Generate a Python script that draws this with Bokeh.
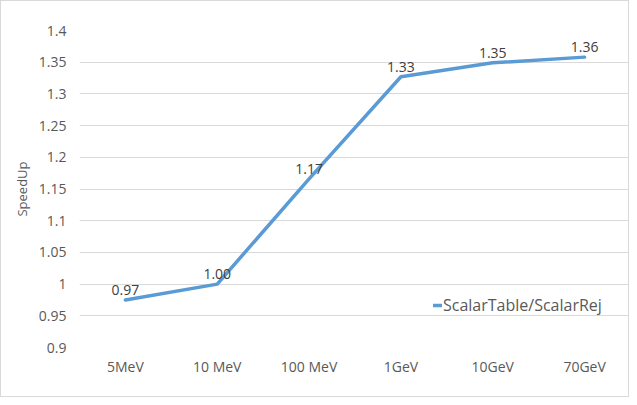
from bokeh.plotting import figure
from bokeh.models import ColumnDataSource, LabelSet, Legend, LegendItem, FixedTicker, Range1d, CustomJSTickFormatter
from bokeh.core.properties import value
from bokeh.embed import file_html
from bokeh.resources import INLINE

categories = ["5MeV", "10 MeV", "100 MeV", "1GeV", "10GeV", "70GeV"]
speedup = [0.975, 1.000, 1.166, 1.327, 1.349, 1.358]
labels = ["0.97", "1.00", "1.17", "1.33", "1.35", "1.36"]
series_name = "ScalarTable/ScalarRej"
y_ticks = [0.9, 0.95, 1.0, 1.05, 1.1, 1.15, 1.2, 1.25, 1.3, 1.35, 1.4]

FONT = "Open Sans"
GREY = "#595959"

src = ColumnDataSource(dict(x=categories, y=speedup, lab=labels))

p = figure(x_range=categories, y_range=Range1d(0.9, 1.4), width=629, height=397,
           output_backend="svg", toolbar_location=None,
           min_border_left=78, min_border_right=0, min_border_top=29, min_border_bottom=51)
p.styles = {"border": "1px solid #d9d9d9", "box-sizing": "border-box"}
p.outline_line_color = None
p.background_fill_color = "white"
p.border_fill_color = "white"

r = p.line("x", "y", source=src, line_color="#5B9BD5", line_width=3.5, line_join="round", line_cap="round")

p.add_layout(LabelSet(x="x", y="y", text="lab", source=src, text_align="center", text_baseline="bottom",
                      y_offset=5, text_font=value(FONT), text_font_size="14px", text_color="#404040"))

p.yaxis.ticker = FixedTicker(ticks=y_ticks)
p.yaxis.formatter = CustomJSTickFormatter(code="return String(parseFloat(tick.toFixed(2)));")
p.ygrid.ticker = FixedTicker(ticks=y_ticks)
p.ygrid.grid_line_color = "#d9d9d9"
p.ygrid.grid_line_width = 1
p.xgrid.grid_line_color = None

for ax in (p.xaxis[0], p.yaxis[0]):
    ax.axis_line_color = None
    ax.major_tick_line_color = None
    ax.minor_tick_line_color = None
    ax.major_tick_out = 0
    ax.major_tick_in = 0
    ax.minor_tick_out = 0
    ax.major_label_text_font = FONT
    ax.major_label_text_font_size = "14px"
    ax.major_label_text_color = GREY
p.yaxis.major_label_standoff = 13
p.xaxis.major_label_standoff = 9

p.yaxis.axis_label = "SpeedUp"
p.yaxis.axis_label_text_font = FONT
p.yaxis.axis_label_text_font_size = "13px"
p.yaxis.axis_label_text_font_style = "normal"
p.yaxis.axis_label_text_color = GREY
p.yaxis.axis_label_standoff = 5

legend = Legend(items=[LegendItem(label=series_name, renderers=[r])], location=(354, 31),
                border_line_color=None, background_fill_alpha=0, padding=0, margin=0,
                glyph_width=9, glyph_height=16, label_standoff=1,
                label_text_font=FONT, label_text_font_size="16px", label_text_color=GREY)
p.add_layout(legend)

open("out.html", "w").write(file_html(p, INLINE))
